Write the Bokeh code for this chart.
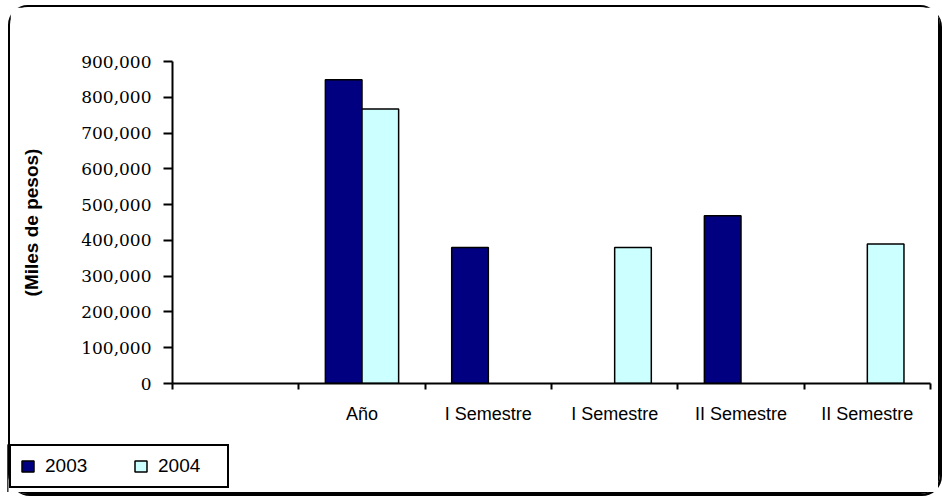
from bokeh.plotting import figure
from bokeh.models import (Range1d, FixedTicker, NumeralTickFormatter, Legend,
                          LegendItem)
from bokeh.embed import file_html
from bokeh.resources import INLINE

# ---- data ----
categories = ["", "Año", "I Semestre", "I Semestre", "II Semestre", "II Semestre"]
values_2003 = [None, 849000, 380000, None, 469000, None]
values_2004 = [None, 767000, None, 380000, None, 390000]
series_names = ["2003", "2004"]
series_colors = ["#000080", "#CCFFFF"]
y_ticks = [0, 100000, 200000, 300000, 400000, 500000, 600000, 700000, 800000, 900000]

n = len(categories)
p = figure(width=932, height=489, output_backend="svg", toolbar_location=None,
           x_range=Range1d(0, n), y_range=Range1d(0, y_ticks[-1]),
           min_border_left=162, min_border_right=12, min_border_top=54,
           min_border_bottom=113)
p.grid.visible = False
p.outline_line_color = None
p.background_fill_color = "white"
p.border_fill_color = "white"
p.styles = {"border": "2px solid black", "border-radius": "20px",
            "box-shadow": "2px 2px 0px black", "margin-left": "8px",
            "margin-top": "5px"}

offsets = [-0.145, 0.145]
bar_w = 0.29
for vals, color, off in zip([values_2003, values_2004], series_colors, offsets):
    xs = [i + 0.5 + off for i, v in enumerate(vals) if v is not None]
    tops = [v for v in vals if v is not None]
    p.vbar(x=xs, top=tops, bottom=0, width=bar_w, fill_color=color,
           line_color="black", line_width=1.5)

# y axis
ya = p.yaxis[0]
ya.ticker = FixedTicker(ticks=y_ticks)
ya.formatter = NumeralTickFormatter(format="0,0")
ya.major_label_text_font = "DejaVu Serif"
ya.major_label_text_font_size = "17px"
ya.major_label_text_color = "black"
ya.major_tick_out = 9
ya.major_tick_in = 0
ya.major_tick_line_width = 2
ya.major_tick_line_color = "black"
ya.minor_tick_line_color = None
ya.axis_line_width = 2
ya.axis_line_color = "black"
ya.major_label_standoff = 12
ya.axis_label = "(Miles de pesos)"
ya.axis_label_text_font = "Liberation Sans"
ya.axis_label_text_font_style = "bold"
ya.axis_label_text_font_size = "19px"
ya.axis_label_text_color = "black"
ya.axis_label_standoff = 36

# x axis
xa = p.xaxis[0]
centers = [i + 0.5 for i in range(n)]
xa.ticker = FixedTicker(ticks=centers, minor_ticks=list(range(n + 1)))
xa.major_label_overrides = {c: lab for c, lab in zip(centers, categories)}
xa.major_tick_line_color = None
xa.major_tick_out = 0
xa.major_tick_in = 0
xa.minor_tick_line_color = "black"
xa.minor_tick_line_width = 2
xa.minor_tick_out = 6
xa.minor_tick_in = 0
xa.axis_line_width = 2
xa.axis_line_color = "black"
xa.major_label_text_font = "Liberation Sans"
xa.major_label_text_font_size = "18px"
xa.major_label_text_color = "black"
xa.major_label_standoff = 14

# legend (separate small canvas overlapping the bottom-left corner)
pl = figure(width=228, height=48, output_backend="svg", toolbar_location=None,
            x_axis_location=None, y_axis_location=None,
            min_border=0, x_range=Range1d(0, 1), y_range=Range1d(0, 1))
pl.grid.visible = False
pl.outline_line_color = None
pl.background_fill_alpha = 0
pl.border_fill_alpha = 0
pl.styles = {"margin-left": "7px", "margin-top": "-50px"}
# legend swatch proxies, kept outside the visible range of this small canvas
leg_renderers = [pl.vbar(x=[-5], top=[1], width=0.1, fill_color=c, line_color="black",
                         line_width=1.5) for c in series_colors]
legend = Legend(items=[LegendItem(label=s, renderers=[r]) for s, r in zip(series_names, leg_renderers)],
                orientation="horizontal", location=(2, 4),
                glyph_width=15, glyph_height=14, label_standoff=10, label_width=60,
                spacing=28, padding=9, margin=0,
                label_text_font="Liberation Sans", label_text_font_size="19px",
                label_text_color="black",
                border_line_color="black", border_line_width=2, border_line_alpha=1.0,
                background_fill_color="white", background_fill_alpha=1.0)
pl.add_layout(legend, "center")

open("out.html", "w").write(file_html([p, pl], INLINE))
